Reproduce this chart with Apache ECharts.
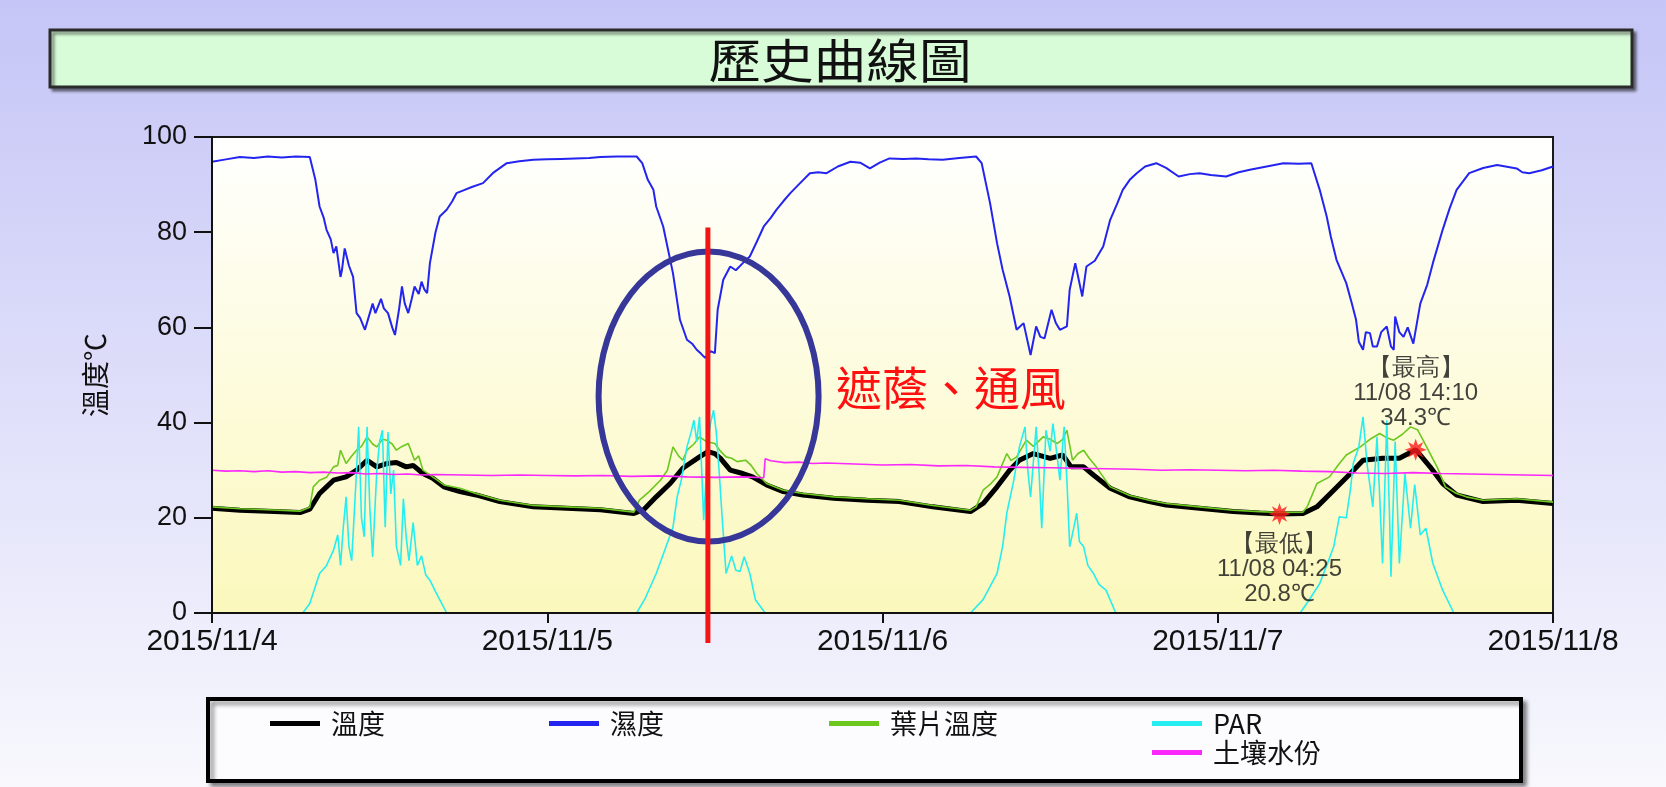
<!DOCTYPE html>
<html><head><meta charset="utf-8">
<script src="https://cdn.jsdelivr.net/npm/echarts@6/dist/echarts.min.js"></script>
<style>html,body{margin:0;padding:0;background:#fff}#c{width:1666px;height:787px}</style>
</head><body><div id="c"></div>
<script>
// x values are hours after 2015/11/4 00:00
const tickLabels = ['2015/11/4', '2015/11/5', '2015/11/6', '2015/11/7', '2015/11/8'];
const seriesNames = ['溫度', '濕度', '葉片溫度', 'PAR', '土壤水份'];
const chartTitle = '歷史曲線圖';
const yAxisName = '溫度℃';
const noteText = '遮蔭、通風';

const temperature = [
[0,22.0],[2,21.6],[4,21.4],[6.3,21.1],[7.0,21.8],[7.7,25.1],[8.2,26.5],[8.7,27.9],[9.6,28.6],[10.35,30],[11.1,32.1],[11.8,30.7],[12.5,31.4],[13.2,31.6],[13.9,30.7],[14.4,31],[15.1,29.3],[15.8,28.3],[16.6,26.5],[17.75,25.5],[18.9,24.8],[20.6,23.4],[23,22.3],[25.4,22.0],[27.8,21.7],[30.2,20.9],[30.9,21.7],[31.8,24.4],[32.8,27.2],[33.7,30.4],[34.9,32.8],[35.5,33.9],[36.0,33.5],[36.4,32.5],[37.1,30],[38.0,29.3],[38.7,28.6],[39.7,26.9],[40.9,25.5],[42.3,24.8],[44.5,24.1],[46.9,23.7],[49.2,23.4],[51.6,22.3],[54.3,21.3],[55.2,23],[56.2,26.5],[57.1,30],[57.8,32.1],[58.8,33.5],[60.0,32.5],[60.9,33.2],[61.5,30.7],[62.4,30.7],[63.1,29],[64.3,26.2],[65.7,24.4],[67.1,23.4],[68.3,22.7],[70.7,22],[73.1,21.3],[75.0,21.0],[76.42,20.8],[78.1,20.9],[79.1,22.3],[80.3,25.8],[81.5,29.3],[82.4,32.1],[83.8,32.5],[85.0,32.5],[86.17,34.3],[87.2,30.7],[88.1,27.2],[89.1,24.8],[91.0,23.4],[93.4,23.7],[96,23.0]
];
const humidity = [
[0,94.8],[1,95.3],[2,95.8],[3,95.6],[4,95.9],[5,95.7],[6,95.9],[7,95.8],[7.4,91],[7.7,85.4],[8.0,83],[8.2,80.5],[8.5,78.5],[8.7,75.6],[8.9,77],[9.2,70.6],[9.3,72],[9.5,76.6],[9.8,73],[10.1,70.6],[10.35,63],[10.6,62],[10.95,59.5],[11.2,62],[11.5,65],[11.7,63],[12.1,66],[12.3,64],[12.6,63],[12.9,60],[13.1,58.4],[13.4,64],[13.6,68.6],[13.8,65],[14.05,63],[14.3,66],[14.5,68.6],[14.8,67],[15.0,69.6],[15.2,68],[15.4,67.2],[15.6,73.5],[16.0,80],[16.3,83.3],[16.8,84.7],[17.2,86.5],[17.5,88.2],[18.0,88.8],[18.6,89.5],[19.4,90.3],[20.1,92.4],[21.1,94.5],[22,94.9],[23,95.2],[24,95.3],[25,95.4],[26,95.5],[27,95.6],[27.8,95.8],[29,95.9],[30.4,95.9],
[30.8,94.5],[31.2,91],[31.6,88.9],[31.8,85.4],[32.3,81.2],[32.6,77],[33.0,71.4],[33.5,61.6],[34.0,57.4],[34.4,56.5],[34.7,55.3],[35.0,54.5],[35.3,53.6],[35.7,55],[36.0,54.6],[36.2,63.7],[36.6,70],[37.1,72.8],[37.5,72],[38.0,73.5],[38.5,74.9],[39.0,78],[39.5,81.2],[40.0,83],[40.4,84.7],[40.9,86.5],[41.4,88.2],[42.1,90.3],[42.8,92.4],[43.4,92.6],[44.0,92.4],[44.8,93.8],[45.7,94.8],[46.4,94.6],[47.1,93.4],[47.8,94.6],[48.5,95.5],[49.5,95.4],[50.4,95.5],[51.3,95.3],[52.3,95.2],[53.5,95.6],[54.7,95.9],
[55.1,94.5],[55.7,86.1],[56.2,77.7],[56.6,72.1],[57.1,66.5],[57.6,59.5],[58.1,60.9],[58.6,54.2],[59.0,60.2],[59.3,58],[59.6,57.7],[60.1,63.7],[60.4,61],[60.7,59.5],[61.2,60.2],[61.4,67.9],[61.8,73.5],[62.3,66.5],[62.6,72.8],[63.2,74],[63.8,77],[64.3,82.6],[64.8,86],[65.2,88.9],[65.7,91],[66.2,92.4],[66.8,93.8],[67.6,94.5],[68.3,93.5],[69.2,91.7],[70.0,92.2],[70.7,92.4],[71.5,92],[72.6,91.7],[73.5,92.6],[74.3,93.1],[75.5,93.8],[76.7,94.5],[77.8,94.4],[78.7,94.5],
[79.3,88.9],[79.8,83.3],[80.1,79],[80.5,74.2],[81.2,69.3],[81.6,65],[81.9,61.6],[82.1,57],[82.4,55.3],[82.6,59],[82.9,58.8],[83.1,56],[83.4,56],[83.7,59],[84.1,60.2],[84.4,56],[84.6,55.3],[84.7,62.3],[85.0,59],[85.3,58],[85.6,60],[86.0,56.6],[86.5,65],[87.0,69],[87.4,73.5],[88.1,80.5],[88.6,85],[89.1,88.9],[90.0,92.4],[91.0,93.5],[92.0,94.1],[93.4,93.4],[93.8,92.6],[94.3,92.4],[95.2,93],[96,93.8]
];
const leafTemp = [
[0,22.3],[2,21.9],[4,21.7],[6.3,21.4],[7.0,22.2],[7.25,26.5],[7.7,27.9],[8.2,28.5],[8.7,30.7],[9.0,31],[9.2,34.2],[9.6,31.4],[10.0,33],[10.35,34.2],[10.7,35],[11.1,37],[11.5,35.5],[11.8,34.9],[12.2,36.5],[12.5,36.3],[12.9,35.5],[13.2,34.2],[13.6,35],[14.05,35.6],[14.5,32.1],[14.8,33],[15.1,30],[15.8,28.6],[16.6,26.9],[17.75,26.2],[18.9,25.1],[20.6,23.7],[23,22.6],[25.4,22.3],[27.8,22.0],[30.2,21.2],[30.6,23.7],[31.3,25.5],[32.1,27.9],[32.6,30],[33.0,34.9],[33.4,33],[33.7,32.1],[34.0,34.2],[34.5,35.5],[34.9,37],[35.4,36],[36.0,35.6],[36.4,34],[36.8,32.8],[37.2,32.5],[37.6,31.8],[38.2,32.1],[38.6,31],[39.0,29.3],[39.7,27.2],[40.9,25.8],[42.3,25.1],[44.5,24.4],[46.9,24.0],[49.2,23.7],[51.6,22.6],[54.3,21.6],[54.7,22.3],[55.2,25.8],[55.7,27],[56.2,28.6],[56.9,33.5],[57.2,32],[57.6,32.8],[58.3,36.3],[58.8,35],[59.5,37],[60.0,36.5],[60.5,35.6],[60.9,36.5],[61.2,38.4],[61.6,32.1],[62.0,33.5],[62.4,34.2],[62.8,32.5],[63.3,30.7],[64.3,26.5],[65.7,24.7],[67.1,23.7],[68.3,23.0],[70.7,22.3],[73.1,21.6],[75.0,21.3],[76.42,21.1],[78.1,21.2],[78.4,22.3],[79.1,27.2],[80.0,28.6],[80.6,31],[81.2,33.2],[82.2,34.9],[82.9,36.5],[83.6,37.7],[84.1,36.8],[84.6,36.3],[85.2,37.5],[85.8,39.1],[86.3,38.5],[86.7,36.3],[87.2,33.5],[87.7,30.7],[88.3,26.5],[89.1,25.1],[89.8,24.4],[91.0,23.7],[93.4,24.0],[96,23.3]
];
const par = [
[0,0],[6.5,0],[7.0,2],[7.7,8.3],[8.2,10],[8.7,13.2],[9.0,16.4],[9.2,10],[9.4,18],[9.6,24.4],[9.8,14],[10.0,11],[10.3,27.2],[10.5,39.1],[10.7,20],[10.9,16],[11.1,39.1],[11.3,22],[11.5,11.8],[11.8,30],[12.0,36],[12.2,38.4],[12.4,18],[12.6,38],[12.8,25],[13.0,30],[13.2,14],[13.5,10.0],[13.7,24],[13.9,16],[14.1,11],[14.4,19],[14.7,10],[15.0,12],[15.3,8],[15.6,6.9],[16.0,4.5],[16.3,2.8],[16.8,0],
[30.4,0],[31.0,3],[31.8,8.3],[32.5,13.9],[33.0,18],[33.3,24.4],[33.6,28],[34.0,34.9],[34.3,38],[34.5,40.5],[34.7,36],[34.9,41.2],[35.2,19.5],[35.5,35.6],[35.7,40],[35.9,42.6],[36.1,38],[36.3,30],[36.5,21],[36.8,8.3],[37.2,12],[37.5,9],[37.8,8.7],[38.1,11.8],[38.5,8.3],[38.9,2.8],[39.6,0],
[54.3,0],[55.2,2.8],[56.2,8.3],[56.6,14],[56.9,21],[57.4,27.9],[57.8,34.9],[58.2,39.1],[58.4,30],[58.6,24.4],[59.0,39.1],[59.2,30],[59.4,17.8],[59.7,38.4],[60.0,34],[60.2,39.8],[60.5,33],[60.7,27.9],[61.0,39.1],[61.2,28],[61.4,13.9],[61.7,18],[61.9,21],[62.1,15],[62.4,13.9],[62.7,10],[63.1,8.3],[63.5,6],[64.0,4.8],[64.7,0],
[77.9,0],[78.6,3],[79.3,6.2],[79.8,10],[80.3,13.9],[80.7,20.2],[81.2,20],[81.5,26],[81.7,31.4],[82.1,34.9],[82.4,41.2],[82.7,31],[83.1,22.3],[83.4,37],[83.6,24],[83.8,10.4],[84.1,40.5],[84.3,20],[84.4,7.6],[84.7,36],[85.0,10.4],[85.4,29.3],[85.8,17.8],[86.1,27],[86.5,16.4],[86.9,17.8],[87.4,10.4],[88.1,4.8],[88.9,0],[96,0]
];
const soilMoisture = [
[0,30.0],[1,29.8],[2,29.9],[3,29.7],[4,29.9],[5,29.6],[6,29.7],[7,29.5],[8,29.6],[9,29.4],[10,29.5],[11,29.2],[12,29.3],[13,29.1],[14,29.2],[15,29.0],[16,29.1],[18,29.0],[20,28.9],[22,29.0],[24,28.9],[26,28.8],[28,28.9],[30,28.7],[32,28.8],[34,28.6],[36,28.5],[38,28.6],[39.5,28.4],[39.6,32.4],[40,32.0],[41,31.6],[42,31.7],[43,31.4],[44,31.5],[46,31.3],[48,31.1],[50,31.2],[52,30.9],[54,31.0],[56,30.7],[58,30.6],[60,30.5],[62,30.4],[64,30.3],[66,30.2],[68,30.0],[70,30.1],[72,30.0],[74,29.9],[76,30.0],[78,29.8],[80,29.7],[82,29.4],[84,29.3],[86,29.5],[88,29.3],[90,29.2],[92,29.1],[94,29.0],[96,28.9]
];
// extremes of 溫度
const extremeNames = ['【最低】', '【最高】'];
const extremeTimes = ['11/08 04:25', '11/08 14:10'];
const extremeHours = [76.42, 86.17];
const extremeValues = [20.8, 34.3];

const colors = ['#000000', '#2424f0', '#6cc81e', '#26eef0', '#fa28fa'];
const widths = [5, 2, 1.6, 1.6, 1.6];
const seriesData = [temperature, humidity, leafTemp, par, soilMoisture];

const chart = echarts.init(document.getElementById('c'), null, {renderer: 'canvas'});
const star = 'path://M50,0 L60,28 L85,15 L72,40 L100,50 L72,60 L85,85 L60,72 L50,100 L40,72 L15,85 L28,60 L0,50 L28,40 L15,15 L40,28 Z';
const font = 'Liberation Sans, Arial, sans-serif';
const cjk = '"Noto Sans CJK TC", "Noto Sans CJK SC", sans-serif';

const series = seriesNames.map((n, i) => ({
  name: n, type: 'line', data: seriesData[i], showSymbol: false, symbol: 'none',
  lineStyle: {color: colors[i], width: widths[i]}, itemStyle: {color: colors[i]},
  z: 2 + i, animation: false
}));
series.push({
  name: 'extremes', type: 'scatter', symbol: star, symbolSize: 22, z: 20,
  itemStyle: {color: '#ff1a1a'},
  data: extremeHours.map((h, i) => ({
    value: [h, extremeValues[i]],
    label: {
      show: true, position: i === 0 ? 'bottom' : 'top', distance: i === 0 ? 7 : 8,
      formatter: extremeNames[i] + '\n' + extremeTimes[i] + '\n' + extremeValues[i] + '℃',
      fontSize: 24, lineHeight: 25, color: '#111', fontFamily: font, align: 'center'
    }
  }))
});

const legendLefts = [270, 549, 829, 1152, 1152];
const legendTops = [710, 710, 710, 710, 739];
const legends = seriesNames.map((n, i) => ({
  data: [n], left: legendLefts[i], top: legendTops[i], padding: 0, icon: 'rect',
  itemWidth: 50, itemHeight: 5, selectedMode: false,
  textStyle: {fontSize: 27, fontFamily: cjk, color: '#111', padding: [0, 0, 0, 6]}
}));

chart.setOption({
  animation: false,
  backgroundColor: {type: 'linear', x: 0, y: 0, x2: 0, y2: 1,
    colorStops: [{offset: 0, color: '#c5c5f7'}, {offset: 1, color: '#f8f8fd'}]},
  grid: {left: 212, right: 113, top: 137, bottom: 174, show: true,
    backgroundColor: {type: 'linear', x: 0, y: 0, x2: 0, y2: 1,
      colorStops: [{offset: 0, color: '#ffffff'}, {offset: 1, color: '#fbf8bc'}]},
    borderColor: '#1a1a1a', borderWidth: 2},
  xAxis: {type: 'value', min: 0, max: 96, interval: 24, z: 30,
    axisLine: {show: true, lineStyle: {color: '#111', width: 2}},
    axisTick: {show: true, length: 10, lineStyle: {color: '#111', width: 2}},
    axisLabel: {formatter: v => tickLabels[Math.round(v / 24)], fontSize: 30, fontFamily: font,
      color: '#111', margin: 14, showMinLabel: true, showMaxLabel: true},
    splitLine: {show: false}},
  yAxis: {type: 'value', min: 0, max: 100, interval: 20, z: 30,
    name: yAxisName, nameLocation: 'middle', nameGap: 103, nameRotate: 90,
    nameTextStyle: {fontSize: 28, fontFamily: cjk, color: '#111'},
    axisLine: {show: true, lineStyle: {color: '#111', width: 2}},
    axisTick: {show: true, length: 18, lineStyle: {color: '#111', width: 2}},
    axisLabel: {fontSize: 27, fontFamily: font, color: '#111', margin: 25},
    splitLine: {show: false}},
  legend: legends,
  series: series
});

// annotations placed through the chart's own scales
const lineHour = 35.5;
const lineTop = chart.convertToPixel({gridIndex: 0}, [lineHour, 81]);
const lineBot = chart.convertToPixel({gridIndex: 0}, [lineHour, -6.3]);
const ellC = chart.convertToPixel({gridIndex: 0}, [35.55, 45.5]);

chart.setOption({
  graphic: {elements: [
    {type: 'rect', id: 'titleBox', z: 1, shape: {x: 50, y: 30, width: 1582, height: 57},
      style: {fill: '#d8fcd8', stroke: '#2a2a2a', lineWidth: 3,
        shadowBlur: 3, shadowOffsetX: 3, shadowOffsetY: 3, shadowColor: 'rgba(0,0,0,0.45)'}},
    {type: 'text', id: 'titleText', z: 2, x: 840, y: 60, scaleX: 1.12,
      style: {text: chartTitle, x: 0, y: 0, align: 'center', verticalAlign: 'middle',
        fontSize: 47, fontFamily: cjk, fill: '#111'}},
    {type: 'rect', id: 'legendBox', z: -1, shape: {x: 208, y: 699, width: 1313, height: 82},
      style: {fill: '#fcfcfe', stroke: '#000', lineWidth: 4,
        shadowBlur: 4, shadowOffsetX: 4, shadowOffsetY: 4, shadowColor: 'rgba(0,0,0,0.4)'}},
    {type: 'ellipse', id: 'ell', z: 40, shape: {cx: ellC[0], cy: ellC[1], rx: 110, ry: 145},
      style: {fill: 'none', stroke: '#37379a', lineWidth: 6}},
    {type: 'line', id: 'redLine', z: 41, shape: {x1: lineTop[0], y1: lineTop[1], x2: lineBot[0], y2: lineBot[1]},
      style: {stroke: '#f41414', lineWidth: 5}},
    {type: 'text', id: 'note', z: 42, x: lineTop[0] + 128, y: ellC[1] - 9,
      style: {text: noteText, align: 'left', verticalAlign: 'middle', fontSize: 46, fontFamily: cjk, fill: '#ff1010'}}
  ]}
});
</script></body></html>
